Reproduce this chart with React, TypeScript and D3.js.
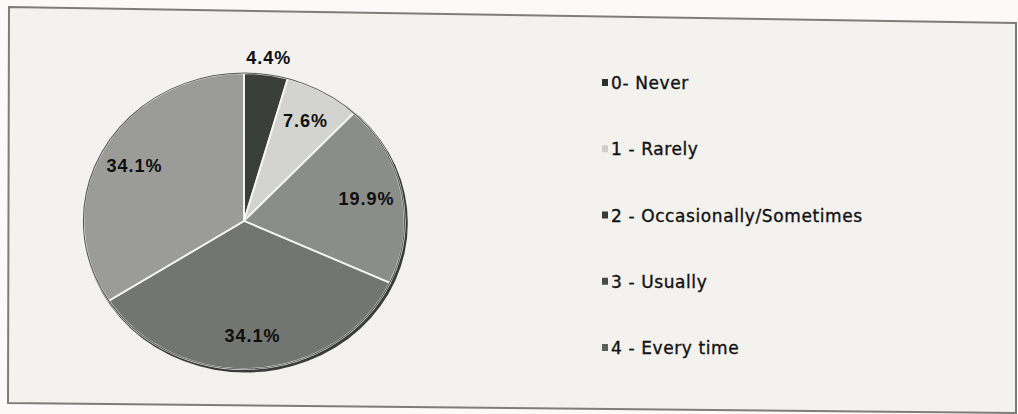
import React from "react";
import * as d3 from "d3";

const categories = ["0- Never", "1 - Rarely", "2 - Occasionally/Sometimes", "3 - Usually", "4 - Every time"];
const values = [4.4, 7.6, 19.9, 34.1, 34.1];
const labels = ["4.4%", "7.6%", "19.9%", "34.1%", "34.1%"];
const colors = ["#3a3f3b", "#d3d3cf", "#8b8d89", "#737572", "#9b9c98"];
const legendColors = ["#2e302e", "#cfcfcb", "#3a3c3a", "#4a4c4a", "#5e605e"];

const W = 1018;
const H = 414;

export default function App() {
  const cx = 244;
  const cy = 221;
  const r = 148;
  const sx = 1.085;

  const pie = d3.pie<number>().sort(null).value((d) => d);
  const arcs = pie(values);
  const arc = d3.arc<d3.PieArcDatum<number>>().innerRadius(0).outerRadius(r);
  const labelIn = d3.arc<d3.PieArcDatum<number>>().innerRadius(115).outerRadius(115);
  const labelOut = d3.arc<d3.PieArcDatum<number>>().innerRadius(165).outerRadius(165);

  const legendY = d3.scalePoint<string>().domain(categories).range([83, 348]);

  return (
    <svg width={W} height={H} style={{ position: "absolute", left: 0, top: 0 }}>
      <rect x={0} y={0} width={W} height={H} fill="#fbfaf8" />
      <path d="M9,7 L1016,23 L1016,413 L8,403 Z" fill="#f3f2ef" stroke="#7d7d7a" strokeWidth={2} />
      <g transform={`translate(${cx},${cy}) scale(${sx},1)`}>
        <ellipse cx={1.5} cy={2} rx={r + 1.5} ry={r + 1.5} fill="#3a3c3a" />
        {arcs.map((a, i) => (
          <path key={i} d={arc(a) || ""} fill={colors[i]} stroke="#f4f4f2" strokeWidth={1.8} />
        ))}
        <circle cx={0} cy={0} r={r} fill="none" stroke="#555755" strokeWidth={1} />
      </g>
      {arcs.map((a, i) => {
        const frac = (a.endAngle - a.startAngle) / (2 * Math.PI);
        const [lx, ly] = frac < 0.05 ? labelOut.centroid(a) : labelIn.centroid(a);
        return (
          <text
            key={i}
            x={cx + lx * sx}
            y={cy + ly}
            textAnchor="middle"
            dominantBaseline="central"
            fontFamily="Liberation Sans, Arial, sans-serif"
            fontWeight="bold"
            fontSize={18}
            letterSpacing={1}
            fill="#0e0e0e"
          >
            {labels[i]}
          </text>
        );
      })}
      {categories.map((c, i) => (
        <g key={c} transform={`translate(602,${legendY(c)})`}>
          <rect x={0} y={-4} width={6} height={7} fill={legendColors[i]} />
          <text
            x={9}
            y={0}
            dominantBaseline="central"
            fontFamily="DejaVu Sans, sans-serif"
            fontSize={17}
            letterSpacing={0.6}
            fill="#111"
            stroke="#111"
            strokeWidth={0.35}
          >
            {c}
          </text>
        </g>
      ))}
    </svg>
  );
}
